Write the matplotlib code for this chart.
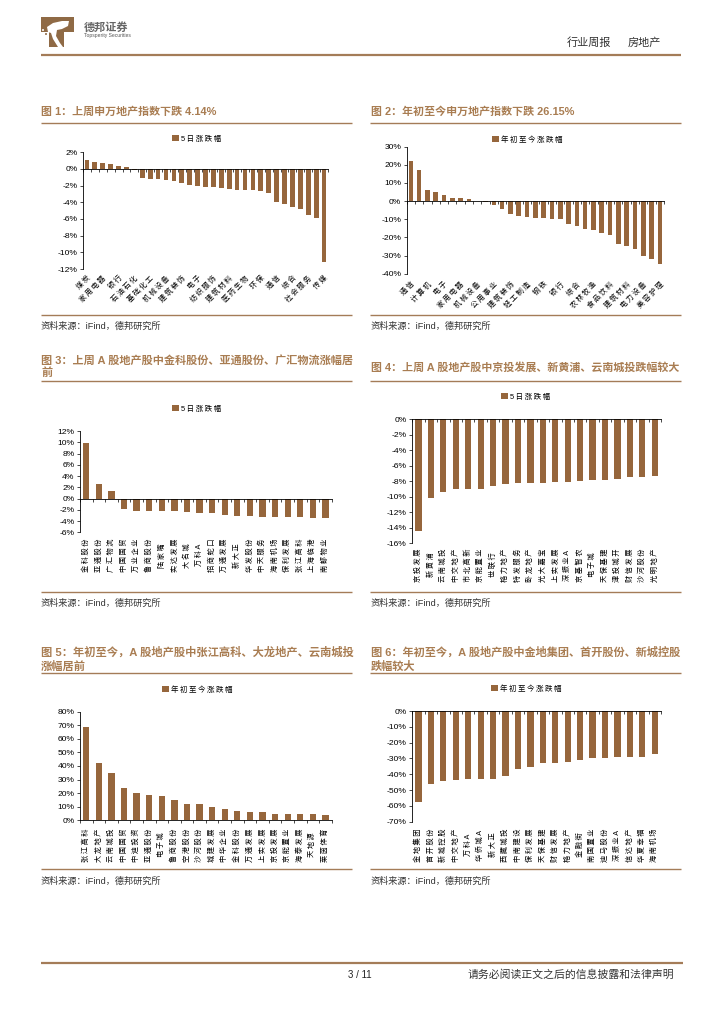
import matplotlib
matplotlib.use("Agg")
import matplotlib.pyplot as plt
from matplotlib.patches import Circle, Polygon
from matplotlib.ticker import FuncFormatter

plt.rcParams['font.family'] = ['Liberation Sans', 'Noto Sans CJK SC']
plt.rcParams['axes.linewidth'] = 0.6

# 图1
labels1 = ["煤炭", "家用电器", "银行", "石油石化", "基础化工", "机械设备", "建筑装饰", "电子",
           "纺织服饰", "建筑材料", "医药生物", "环保", "通信", "综合", "社会服务", "传媒"]
values1 = [1.1, 0.8, 0.75, 0.65, 0.4, 0.2, -0.1, -1.1, -1.15, -1.2, -1.3, -1.5, -1.65, -1.9, -2.05, -2.15,
           -2.2, -2.3, -2.35, -2.5, -2.5, -2.55, -2.7, -2.9, -3.95, -4.2, -4.55, -4.75, -5.5, -5.9, -11.15]
# 图2
labels2 = ["通信", "计算机", "电子", "家用电器", "机械设备", "公用事业", "建筑装饰", "轻工制造",
           "钢铁", "银行", "综合", "农林牧渔", "食品饮料", "建筑材料", "电力设备", "美容护理"]
values2 = [22, 17.3, 6.2, 5, 3.6, 1.8, 1.5, 1, 0.2, -0.3, -2.2, -4.5, -7.2, -8.3, -9, -9.2,
           -9.5, -9.7, -9.9, -12.5, -13.7, -15.5, -15.9, -17.3, -18.5, -23.7, -24.5, -26.3, -30.3, -31.7, -34.7]
# 图3
labels3 = ["金科股份", "亚通股份", "广汇物流", "中国国贸", "万业企业", "鲁商股份", "陆家嘴", "实达发展", "大名城", "万科A",
           "招商蛇口", "万通发展", "新大正", "华发股份", "中天服务", "海南机场", "保利发展", "张江高科", "上海临港", "南都物业"]
values3 = [9.8, 2.6, 1.3, -1.8, -2.2, -2.2, -2.2, -2.3, -2.35, -2.5,
           -2.5, -3.0, -3.15, -3.15, -3.2, -3.25, -3.3, -3.35, -3.4, -3.5]
# 图4
labels4 = ["京投发展", "新黄浦", "云南城投", "中交地产", "市北高新", "京能置业", "世联行", "格力地产", "特发服务", "卧龙地产",
           "光大嘉宝", "上实发展", "深振业A", "京基智农", "电子城", "天保基建", "津投城开", "财信发展", "沙河股份", "光明地产"]
values4 = [-14.4, -10.2, -9.45, -9.05, -9.0, -8.95, -8.65, -8.35, -8.3, -8.25,
           -8.2, -8.15, -8.05, -8.0, -7.9, -7.9, -7.7, -7.5, -7.45, -7.4]
# 图5
labels5 = ["张江高科", "大龙地产", "云南城投", "中国国贸", "中迪投资", "亚通股份", "电子城", "鲁商股份", "空港股份", "沙河股份",
           "城建发展", "中华企业", "金科股份", "万通发展", "上实发展", "京投发展", "京能置业", "海泰发展", "天地源", "莱茵体育"]
values5 = [69, 42, 35, 23.8, 20, 18.7, 18, 15, 12, 11.7, 10, 8.3, 7, 6.2, 5.8, 5, 4.9, 4.8, 4.5, 3.8]
# 图6
labels6 = ["金地集团", "首开股份", "新城控股", "中交地产", "万科A", "华侨城A", "新大正", "西藏城投", "中南建设", "保利发展",
           "天保基建", "财信发展", "格力地产", "金融街", "南国置业", "迪马股份", "深振业A", "信达地产", "华夏幸福", "海南机场"]
values6 = [-57.8, -46, -44.2, -43.9, -43.3, -43.2, -42.9, -41.3, -36.7, -35.3,
           -32.8, -32.7, -32, -31.3, -29.6, -29.6, -29.4, -29.2, -28.8, -27]

BAR = "#96663c"
LINE = "#a47c58"
TITLE = "#a97d52"
W, H = 724, 1024

fig = plt.figure(figsize=(W / 100, H / 100), dpi=100)

# page layer in pixel coordinates
page = fig.add_axes([0, 0, 1, 1])
page.set_xlim(0, W)
page.set_ylim(H, 0)
page.axis("off")


def spaced(s):
    # thin space between characters, the source sets its labels loosely
    return "\u2009".join(s)


def rule(x0, x1, y, lw=1.0):
    page.plot([x0, x1], [y, y], color=LINE, lw=lw, solid_capstyle="butt")


def chart(data, labels, box, ylim, step, legend_name, legend_xy, rot, width, pad):
    x0, x1, ytop, ybot = box
    ax = fig.add_axes([x0 / W, 1 - ybot / H, (x1 - x0) / W, (ybot - ytop) / H])
    ax.patch.set_alpha(0)
    n = len(data)
    ax.bar(range(n), data, width=width, color=BAR, label=spaced(legend_name), zorder=1)
    ax.set_xlim(-0.5, n - 0.5)
    ax.set_ylim(*ylim)
    ax.spines[["top", "right"]].set_visible(False)
    ax.spines["bottom"].set_position(("data", 0))
    ax.set_xticks([i - 0.5 for i in range(n + 1)])
    ax.tick_params(axis="x", labelbottom=False, length=2, width=0.5)
    ticks = []
    v = ylim[0]
    while v <= ylim[1]:
        ticks.append(v)
        v += step
    ax.set_yticks(ticks)
    ax.yaxis.set_major_formatter(FuncFormatter(lambda v, p: f"{v:.0f}%"))
    ax.tick_params(axis="y", labelsize=6.1, length=2, width=0.5, pad=2)

    # category names sit below the plot, not on the zero line
    sec = ax.secondary_xaxis(0)
    sec.spines["bottom"].set_visible(False)
    names = [spaced(s) for s in labels]
    if rot == 45:
        sec.set_xticks(range(0, n, 2))
        sec.set_xticklabels(names, rotation=45, ha="right", va="top", rotation_mode="anchor", fontsize=5.2)
    else:
        sec.set_xticks(range(n))
        sec.set_xticklabels(names, rotation=90, ha="center", va="center", fontsize=5.2)
    sec.tick_params(axis="x", length=0, pad=pad)

    ax.legend(loc="center", bbox_to_anchor=(legend_xy[0] / W, 1 - legend_xy[1] / H),
              bbox_transform=fig.transFigure, frameon=False, fontsize=5.4,
              handlelength=0.9, handleheight=0.9, handletextpad=0.3, borderpad=0)
    return ax


chart(values1, labels1, (83, 328, 152.3, 269), (-12, 2), 2, "5日涨跌幅", (197, 139), 45, 0.6, 4)
chart(values2, labels2, (406.7, 664, 146.7, 273.7), (-40, 30), 10, "年初至今涨跌幅", (527, 140), 45, 0.55, 5)
chart(values3, labels3, (80, 331.7, 431, 532.3), (-6, 12), 2, "5日涨跌幅", (197, 409), 90, 0.5, 16.5)
chart(values4, labels4, (412.3, 661, 419, 543.3), (-16, 0), 2, "5日涨跌幅", (526, 397), 90, 0.5, 15.6)
chart(values5, labels5, (80, 331.7, 711.7, 820.3), (0, 80), 10, "年初至今涨跌幅", (197, 690), 90, 0.5, 17.8)
chart(values6, labels6, (412.3, 661, 711, 821.7), (-70, 0), 10, "年初至今涨跌幅", (526, 689), 90, 0.5, 16.8)

titles = [
    (41, 112, 7.9, "图 1：上周申万地产指数下跌 4.14%"),
    (371, 112, 7.9, "图 2：年初至今申万地产指数下跌 26.15%"),
    (41, 360, 8.0, "图 3：上周 A 股地产股中金科股份、亚通股份、广汇物流涨幅居"),
    (41, 373, 8.0, "前"),
    (371, 367, 7.9, "图 4：上周 A 股地产股中京投发展、新黄浦、云南城投跌幅较大"),
    (41, 652, 8.1, "图 5：年初至今，A 股地产股中张江高科、大龙地产、云南城投"),
    (41, 666, 8.1, "涨幅居前"),
    (371, 652, 8.05, "图 6：年初至今，A 股地产股中金地集团、首开股份、新城控股"),
    (371, 666, 8.05, "跌幅较大"),
]
for x, y, size, s in titles:
    page.text(x, y, s, fontsize=size, fontweight="bold", color=TITLE, va="center", ha="left")

for x0, x1 in [(41, 352), (370, 681)]:
    rule(x0, x1, 122.5)
    rule(x0, x1, 315)
    rule(x0, x1, 381)
    rule(x0, x1, 592)
    rule(x0, x1, 673)
    rule(x0, x1, 869)

for x in (41, 371):
    for y in (326, 603, 881):
        page.text(x, y, "资料来源：iFind，德邦研究所", fontsize=6.6, color="#333333", va="center", ha="left")

# header
rule(41, 681, 54.5, lw=1.6)
rule(41, 683, 963, lw=1.6)
page.add_patch(Polygon([(41, 17), (74, 17), (74, 32), (64, 32), (64, 47), (49, 47), (49, 32), (41, 32)],
                       closed=True, color="#8f6a45", lw=0))
page.add_patch(Polygon([(47, 27), (53, 23), (62, 21), (69, 21), (68, 26), (62, 29), (57, 30), (56, 36), (60, 43),
                        (63, 47), (58, 47), (53, 39), (51, 33), (48, 32)],
                       closed=True, color="white", lw=0))
page.add_patch(Circle((43, 30), 1, color="white", lw=0))
page.add_patch(Circle((46, 34), 1, color="#8f6a45", lw=0))
page.text(84, 27, "德邦证券", fontsize=8, fontweight="bold", color="#666666", va="center", ha="left")
page.text(84, 36, "Topsperity Securities", fontsize=3.6, color="#555555", va="center", ha="left")
page.text(567, 43, "行业周报", fontsize=8, color="#333333", va="center", ha="left")
page.text(628, 43, "房地产", fontsize=8, color="#333333", va="center", ha="left")

# footer
page.text(360, 975, "3 / 11", fontsize=7, color="#222222", va="center", ha="center")
page.text(674, 975, "请务必阅读正文之后的信息披露和法律声明", fontsize=7.8, color="#333333", va="center", ha="right")

plt.savefig("out.png", dpi=100)
